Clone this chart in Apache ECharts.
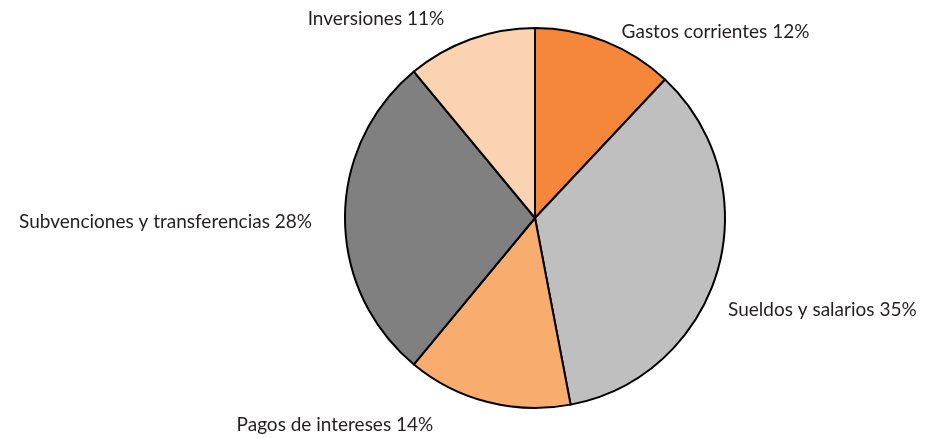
<!DOCTYPE html>
<html>
<head>
<meta charset="utf-8">
<script src="https://cdn.jsdelivr.net/npm/echarts@6/dist/echarts.min.js"></script>
<style>
  html, body { margin: 0; padding: 0; background: #fff; }
  #chart { width: 933px; height: 438px; }
</style>
</head>
<body>
<div id="chart"></div>
<script>
// datos del gráfico
const categories = ['Gastos corrientes', 'Sueldos y salarios', 'Pagos de intereses', 'Subvenciones y transferencias', 'Inversiones']
const values = [12, 35, 14, 28, 11]
const colors = ['#F5873A', '#BFBFBF', '#F8AC6E', '#808080', '#FCD3B0']

// ajustes finos de las etiquetas (dx, dy) para imitar el original
const labelShift = [[0, 0], [-12, 36], [-39, 13], [-10, 4], [-10, -11]]

const chart = echarts.init(document.getElementById('chart'))

chart.setOption({
  animation: false,
  series: [{
    type: 'pie',
    center: [535, 218],
    radius: 190,
    startAngle: 90,
    clockwise: true,
    data: categories.map((name, i) => ({
      name,
      value: values[i],
      itemStyle: { color: colors[i] },
    })),
    itemStyle: { borderColor: '#000', borderWidth: 2 },
    label: {
      show: true,
      position: 'outside',
      formatter: '{b} {c}%',
      color: '#231F20',
      fontFamily: 'Lato',
      fontSize: 19,
      overflow: 'none',
    },
    labelLine: { show: false, length: 10, length2: 8 },
    labelLayout: params => ({
      dx: labelShift[params.dataIndex][0],
      dy: labelShift[params.dataIndex][1],
    }),
    emphasis: { disabled: true },
  }],
})
</script>
</body>
</html>
